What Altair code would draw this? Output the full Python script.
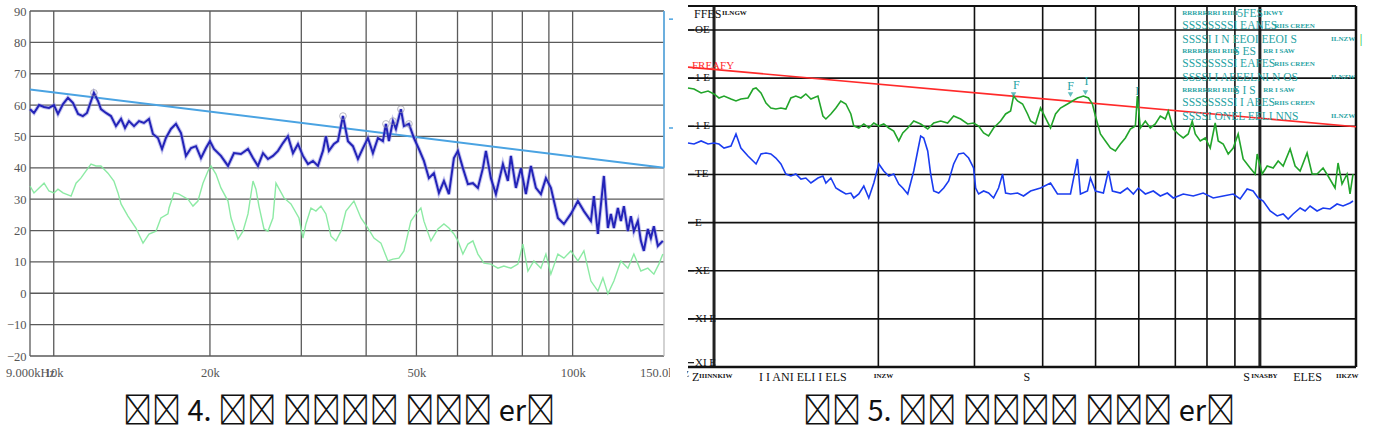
import altair as alt
import pandas as pd

# ---------------- captions (original text uses private-use code points) -------------
CAPTION_LEFT = "\ue339\ue422 4. \ue5af\ue55d \ue617\ue544\ue5fb\ue2fd \ue558\ue55a\ue62c er\ue525"
CAPTION_RIGHT = "\ue339\ue422 5. \ue5af\ue55d \ue617\ue544\ue5fb\ue2fd \ue47e\ue564\ue62c er\ue525"

# ---------------- left chart data (frequency kHz, level dB) --------------------------
L_XTICKS = [9, 10, 20, 50, 100, 150]
L_XTICK_TEXT = ["9.000kHz", "10k", "20k", "50k", "100k", "150.0kHz"]
L_XGRID = [9, 10, 20, 30, 40, 50, 60, 70, 80, 90, 100]
L_YTICKS = [-20, -10, 0, 10, 20, 30, 40, 50, 60, 70, 80, 90]

L_LIMIT = [(9, 65.0), (150, 40.0)]
L_LIMIT_EDGE = [(150, 40.0, 90.0)]
L_EDGE_DASHES = [87.4, 52.7]
L_PEAKS = [(11.95, 63.9), (36.09, 56.5), (43.67, 54.0), (45.05, 54.9), (46.67, 58.7), (48.36, 54.0)]

L_BLUE = [
    (9.00, 58.7), (9.16, 57.5), (9.37, 60.0), (9.58, 59.4), (9.79, 59.1), (10.01, 60.0),
    (10.19, 57.2), (10.42, 60.3), (10.65, 62.3), (10.89, 60.7), (11.14, 57.2), (11.38, 56.5),
    (11.59, 57.5), (11.80, 61.3), (11.95, 63.9), (12.17, 61.3), (12.33, 58.7), (12.61, 57.5),
    (12.89, 56.5), (13.18, 53.3), (13.48, 55.6), (13.72, 52.7), (13.96, 54.9), (14.28, 53.3),
    (14.60, 54.9), (14.92, 54.3), (15.26, 55.6), (15.53, 50.8), (15.88, 49.5), (16.17, 46.0),
    (16.45, 49.5), (16.82, 52.4), (17.20, 54.0), (17.59, 51.1), (17.98, 43.8), (18.39, 46.3),
    (18.80, 46.9), (19.22, 43.1), (19.65, 46.3), (20.00, 48.5), (20.36, 46.0), (21.00, 43.8),
    (21.67, 40.6), (22.25, 44.7), (22.95, 44.4), (23.68, 46.0), (24.21, 43.1), (24.75, 40.6),
    (25.31, 44.7), (25.87, 42.8), (26.45, 43.8), (27.05, 45.4), (27.65, 47.9), (28.27, 50.1),
    (28.91, 44.7), (29.56, 47.6), (30.22, 43.8), (30.90, 41.2), (31.59, 42.2), (32.30, 40.6),
    (33.02, 45.4), (33.46, 50.1), (33.91, 45.4), (34.67, 47.6), (35.29, 48.5), (36.09, 56.5),
    (36.90, 48.5), (37.72, 46.9), (38.57, 42.8), (39.44, 46.3), (40.32, 49.5), (41.22, 44.7),
    (42.15, 49.5), (43.09, 48.5), (43.67, 54.0), (44.25, 48.5), (45.05, 54.9), (45.65, 52.4),
    (46.67, 58.7), (47.30, 53.3), (48.36, 54.0), (49.45, 49.5), (50.55, 46.0), (51.69, 42.2),
    (52.85, 36.7), (54.03, 38.3), (55.25, 32.0), (56.49, 35.8), (57.75, 31.6), (59.05, 43.1),
    (60.11, 45.4), (61.45, 39.9), (62.83, 34.8), (64.24, 35.1), (65.68, 33.6), (67.16, 39.9),
    (68.06, 45.4), (69.58, 36.7), (71.14, 31.6), (73.39, 41.2), (75.03, 35.8), (76.04, 43.8),
    (77.74, 33.6), (79.49, 39.9), (81.27, 31.6), (83.10, 40.6), (84.96, 33.6), (86.87, 31.6),
    (88.82, 36.7), (90.80, 33.6), (93.67, 24.0), (96.20, 22.1), (99.23, 25.3), (102.36, 29.4),
    (105.13, 26.2), (108.45, 23.0), (109.90, 31.0), (111.87, 18.9), (114.88, 37.4), (116.94, 20.8),
    (118.51, 25.3), (120.09, 20.8), (122.24, 27.2), (123.88, 23.0), (125.54, 27.8), (127.79, 19.8),
    (129.49, 24.6), (131.23, 19.8), (133.57, 23.0), (135.36, 16.7), (137.18, 13.5), (139.63, 20.5),
    (141.50, 17.6), (143.40, 21.4), (145.96, 15.1), (149.24, 16.7),
]

L_GREEN = [
    (9.00, 34.2), (9.16, 32.0), (9.37, 33.6), (9.58, 35.1), (9.79, 32.6), (10.01, 32.0),
    (10.19, 33.2), (10.42, 32.0), (10.80, 31.0), (11.04, 35.1), (11.28, 36.7), (11.54, 39.0),
    (11.80, 41.2), (12.06, 40.6), (12.33, 40.6), (12.72, 38.3), (13.06, 35.8), (13.30, 32.0),
    (13.48, 28.5), (13.90, 24.6), (14.40, 20.8), (14.86, 16.0), (15.26, 18.9), (15.74, 19.8),
    (16.09, 24.0), (16.60, 25.3), (16.68, 27.2), (17.05, 32.0), (17.43, 31.6), (18.14, 30.0),
    (18.55, 27.8), (18.96, 29.4), (19.39, 35.1), (19.83, 39.0), (20.09, 40.6), (20.54, 38.0),
    (21.00, 33.6), (21.67, 29.4), (21.96, 24.0), (22.65, 17.3), (23.16, 19.8), (23.68, 25.3),
    (24.21, 35.8), (24.53, 33.2), (24.86, 27.8), (25.42, 20.5), (25.87, 19.8), (26.45, 24.0),
    (26.81, 35.1), (27.78, 30.4), (28.65, 28.5), (29.69, 24.0), (30.22, 17.6), (30.62, 22.1),
    (31.31, 27.2), (32.01, 26.2), (32.73, 27.8), (33.46, 25.3), (34.22, 18.2), (34.98, 16.7),
    (35.77, 19.8), (36.57, 26.2), (37.89, 29.4), (39.09, 24.0), (40.32, 20.8), (41.41, 17.6),
    (42.71, 16.0), (44.06, 10.3), (45.05, 10.9), (46.26, 11.2), (47.30, 13.5), (48.79, 23.0),
    (49.89, 25.3), (51.00, 27.2), (51.69, 23.0), (53.32, 16.7), (55.00, 20.5), (56.49, 22.1),
    (57.75, 20.8), (59.05, 18.9), (60.11, 16.7), (61.45, 12.5), (62.83, 15.7), (64.24, 16.7),
    (65.68, 12.5), (67.46, 9.6), (69.58, 9.3), (71.78, 8.0), (73.71, 8.7), (76.04, 8.0),
    (78.44, 9.3), (80.20, 15.7), (82.00, 7.1), (84.21, 10.3), (86.87, 8.0), (88.82, 12.5),
    (90.80, 6.1), (93.67, 12.5), (96.20, 11.2), (99.23, 13.5), (102.36, 10.3), (105.13, 13.5),
    (108.45, 3.9), (111.87, 0.7), (114.38, 4.9), (116.94, -0.2), (120.09, 3.9), (123.88, 10.3),
    (127.79, 8.0), (131.23, 12.5), (135.36, 7.1), (139.63, 8.0), (143.40, 6.1), (146.61, 9.3),
    (149.24, 12.5),
]

# ---------------- right chart data (frequency kHz, level) ---------------------------
R_XGRID = [20, 30, 40, 50, 60, 70, 80, 90]
R_XGRID_THICK = [10, 100]
R_YGRID = [10, 20, 30, 40, 50, 60, 70]
R_YLABELS = [(70, "OE"), (60, "1 E"), (50, "1 E"), (40, "TE"), (30, "E"), (20, "XE"), (10, "XI E"), (0.9, "XI E")]
R_LIMIT = [(8.96, 62.3), (150, 49.9)]

R_GREEN = [
    (8.96, 57.96), (9.19, 57.75), (9.47, 56.92), (9.75, 57.33), (10.0, 56.71), (10.21, 55.88),
    (10.43, 56.29), (10.74, 55.67), (10.97, 55.26), (11.20, 55.67), (11.54, 55.88), (11.79, 57.75),
    (11.94, 57.96), (12.19, 56.92), (12.45, 54.84), (12.71, 53.80), (12.98, 53.59), (13.26, 53.80),
    (13.54, 53.59), (13.83, 55.88), (14.12, 56.29), (14.43, 55.88), (14.73, 56.71), (15.05, 55.67),
    (15.50, 56.29), (15.83, 52.14), (16.03, 51.52), (16.37, 52.56), (16.72, 53.80), (17.07, 55.26),
    (17.44, 54.63), (17.81, 52.56), (18.03, 50.06), (18.42, 49.65), (18.81, 50.48), (19.21, 49.65),
    (19.62, 50.69), (20.04, 50.06), (20.46, 50.48), (20.90, 49.65), (21.34, 49.02), (21.80, 46.95),
    (22.17, 48.61), (22.64, 49.65), (23.22, 51.10), (23.91, 50.48), (24.63, 49.44), (25.26, 50.69),
    (26.02, 51.10), (26.79, 50.69), (27.48, 52.14), (28.30, 51.52), (29.15, 50.48), (29.89, 50.69),
    (30.53, 50.06), (31.18, 48.61), (31.84, 47.99), (32.52, 49.65), (33.50, 51.10), (34.21, 52.56),
    (34.94, 53.18), (35.38, 56.29), (35.98, 55.26), (36.75, 54.63), (37.53, 52.56), (38.01, 51.10),
    (38.81, 50.48), (39.64, 53.80), (40.48, 51.73), (41.35, 49.65), (42.23, 52.56), (43.12, 53.80),
    (44.41, 54.63), (45.36, 55.26), (46.32, 55.88), (47.51, 56.29), (48.52, 55.88), (49.34, 54.63),
    (49.97, 52.14), (51.03, 48.40), (52.12, 46.95), (53.23, 45.49), (54.36, 44.87), (55.52, 46.32),
    (56.70, 47.57), (57.90, 49.44), (59.14, 50.06), (59.64, 56.29), (60.39, 49.65), (61.68, 51.10),
    (62.99, 49.65), (64.33, 50.48), (65.70, 52.14), (67.10, 51.52), (67.95, 53.18), (69.40, 49.44),
    (70.88, 48.40), (72.38, 47.57), (73.92, 48.40), (75.18, 51.10), (76.14, 48.40), (77.76, 46.95),
    (79.41, 47.57), (81.10, 45.49), (82.82, 50.69), (83.88, 46.95), (85.66, 46.32), (87.49, 44.25),
    (89.35, 45.49), (91.25, 48.40), (93.19, 43.21), (95.98, 41.34), (98.02, 40.09), (98.87, 44.25),
    (100.98, 40.09), (103.13, 41.75), (105.77, 41.34), (108.02, 42.79), (110.32, 41.75), (113.61, 45.28),
    (116.03, 41.75), (118.50, 40.71), (122.04, 44.45), (124.64, 40.09), (127.29, 40.09), (130.55, 41.34),
    (133.33, 39.68), (137.32, 37.18), (139.06, 42.38), (141.42, 38.01), (144.43, 40.09), (146.27, 35.94),
    (148.13, 40.09),
]

R_BLUE = [
    (8.96, 46.53), (9.19, 46.32), (9.47, 46.95), (9.75, 46.32), (10.0, 46.53), (10.21, 46.32),
    (10.43, 45.49), (10.74, 45.91), (10.97, 48.40), (11.20, 45.49), (11.54, 43.83), (11.79, 42.79),
    (11.94, 42.17), (12.19, 44.25), (12.45, 44.45), (12.71, 44.25), (12.98, 43.41), (13.26, 42.17),
    (13.54, 40.09), (13.83, 39.68), (14.12, 40.09), (14.43, 39.05), (14.73, 39.26), (15.05, 38.22),
    (15.50, 39.26), (15.83, 39.68), (16.03, 38.22), (16.37, 39.26), (16.72, 37.18), (17.07, 36.56),
    (17.44, 35.94), (17.81, 36.14), (18.03, 35.11), (18.42, 35.94), (18.81, 37.60), (19.21, 35.11),
    (19.62, 38.22), (20.04, 42.17), (20.46, 40.71), (20.90, 39.68), (21.34, 40.09), (21.80, 38.01),
    (22.17, 37.18), (22.64, 35.94), (23.22, 40.71), (23.61, 44.87), (23.91, 47.99), (24.22, 47.57),
    (24.63, 44.87), (24.94, 40.09), (25.26, 36.56), (25.80, 36.14), (26.35, 37.18), (26.91, 38.64),
    (27.48, 42.17), (28.06, 44.25), (28.66, 44.45), (29.27, 43.41), (29.89, 41.34), (30.15, 37.18),
    (30.53, 35.94), (31.18, 36.56), (31.84, 36.14), (32.52, 35.11), (33.21, 37.18), (33.78, 40.09),
    (34.21, 36.14), (34.94, 35.94), (35.98, 36.14), (36.90, 35.52), (38.01, 36.56), (39.64, 37.18),
    (41.35, 38.22), (42.58, 35.94), (44.98, 35.94), (46.32, 43.21), (46.91, 35.94), (48.32, 36.56),
    (48.93, 39.26), (49.97, 36.56), (51.68, 36.14), (52.78, 40.71), (53.68, 36.56), (55.52, 36.14),
    (57.18, 37.18), (58.64, 35.94), (59.89, 37.18), (61.68, 35.94), (63.79, 36.56), (65.70, 35.52),
    (67.67, 36.14), (69.40, 35.11), (72.38, 35.94), (75.50, 35.52), (78.74, 36.14), (82.13, 35.11),
    (85.66, 35.52), (89.35, 35.94), (92.02, 34.90), (94.77, 36.98), (97.20, 36.56), (99.29, 35.11),
    (101.40, 34.48), (104.44, 32.41), (107.56, 31.37), (110.32, 31.78), (112.66, 30.74), (115.06, 31.78),
    (118.50, 33.03), (121.02, 32.41), (123.59, 33.44), (127.29, 32.41), (130.55, 33.03), (134.45, 32.82),
    (138.48, 33.86), (142.02, 33.44), (146.27, 34.07), (148.13, 34.48),
]

# annotation texts of the right chart (anchor frequency, level)
R_TOP_BIG = [("FFES", 9.19, 73.3)]
R_TOP_SMALL = [("ILNGW", 10.34, 73.5)]
R_LIMIT_LABEL = [("FREAFY", 9.11, 62.6)]
R_LEGEND_BIG = [
    ("5FES", 90.9, 73.3), ("SSSSSSSSI EANES", 72.07, 70.8), ("SSSSI I N EEOI EEOI S", 72.07, 67.9),
    ("S ES", 89.4, 65.4), ("SSSSSSSSI EAFES", 72.07, 62.9), ("SSSSI I AEEELNI N OS", 72.07, 60.0),
    ("S I S", 89.4, 57.3), ("SSSSSSSSI I AEES", 72.07, 54.8), ("SSSSI ONEL EELI NNS", 72.07, 51.9),
]
R_LEGEND_SMALL = [
    ("RRRRRRRI RIIII", 72.07, 73.5), ("IKWY", 101.4, 73.5), ("RIIS CREEN", 106.2, 70.8),
    ("ILNZW", 135.0, 68.2), ("RRRRRRRI RIIII", 72.07, 65.6), ("RR I SAW", 101.4, 65.6),
    ("RIIS CREEN", 106.2, 62.9), ("ILNZW", 135.0, 60.3), ("RRRRRRRI RIIII", 72.07, 57.5),
    ("RR I SAW", 101.4, 57.5), ("RIIS CREEN", 106.2, 54.8), ("ILNZW", 135.0, 52.2),
]
R_MARK_TEXT = [("F", 35.8, 58.6), ("F", 44.98, 58.4), ("I", 48.1, 59.4), ("I", 59.64, 57.3)]
R_MARK_PTS = [(35.38, 56.6), (44.98, 56.6), (47.9, 57.0)]
R_SIDE_MARK = [("|", 153.2, 68.1)]
R_BOTTOM_BIG = [("Z", 9.11), ("I I ANI ELI I ELS", 12.09), ("S", 36.90), ("S", 93.19), ("ELES", 115.06)]
R_BOTTOM_SMALL = [("IIINNKIW", 9.39), ("INZW", 19.62), ("INASBY", 96.4), ("IIKZW", 137.9)]

# ---------------- styling ----------------------------------------------------------
W1, H1 = 634, 345
W2, H2 = 668, 356
SERIF = "Liberation Serif"
CAPTION_FONT = "Noto Sans CJK SC"
TEAL = "#1fa3a3"

# ================= left chart ======================================================
label_expr = "''"
for v, t in reversed(list(zip(L_XTICKS, L_XTICK_TEXT))):
    label_expr = f"datum.value == {v} ? '{t}' : {label_expr}"

xl = alt.Scale(type="log", domain=[9, 150], nice=False)
yl = alt.Scale(domain=[-20, 90], nice=False, zero=False)
x_axis = alt.Axis(values=L_XTICKS, labelExpr=label_expr, grid=False, ticks=False, domain=False,
                  labelFont=SERIF, labelFontSize=12.5, labelColor="#555555", labelPadding=10,
                  labelOverlap=False, labelFlush=False, title=None)
y_axis = alt.Axis(values=L_YTICKS, grid=False, ticks=False, domain=False, labelFont=SERIF,
                  labelFontSize=12.5, labelColor="#555555", labelPadding=4, title=None)
XL = alt.X("f:Q", scale=xl, axis=x_axis)
YL = alt.Y("db:Q", scale=yl, axis=y_axis)

l_gridv = alt.Chart(pd.DataFrame({"f": L_XGRID})).mark_rule(color="#5a5a5a", strokeWidth=1.3).encode(x=XL)
l_gridh = alt.Chart(pd.DataFrame({"db": L_YTICKS})).mark_rule(color="#5a5a5a", strokeWidth=1.3).encode(y=YL)
l_right = alt.Chart(pd.DataFrame({"f": [150]})).mark_rule(color="#bbbbbb", strokeWidth=1.3).encode(x=XL)
l_limit = alt.Chart(pd.DataFrame(L_LIMIT, columns=["f", "db"])).mark_line(
    color="#4aa3e2", strokeWidth=2).encode(x=XL, y=YL)
l_limit_edge = alt.Chart(pd.DataFrame(L_LIMIT_EDGE, columns=["f", "db", "db2"])).mark_rule(
    color="#4aa3e2", strokeWidth=1.5).encode(x=XL, y=YL, y2="db2:Q")
l_dashes = alt.Chart(pd.DataFrame({"db": L_EDGE_DASHES})).mark_rule(
    color="#4aa3e2", strokeWidth=1.5).encode(x=alt.value(W1 + 5), x2=alt.value(W1 + 9), y=YL)
l_green = alt.Chart(pd.DataFrame(L_GREEN, columns=["f", "db"])).mark_line(
    color="#7fe89a", strokeWidth=1.4, opacity=0.9).encode(x=XL, y=YL)
l_blue_halo = alt.Chart(pd.DataFrame(L_BLUE, columns=["f", "db"])).mark_line(
    color="#8f8fe0", strokeWidth=4, opacity=0.5).encode(x=XL, y=YL)
l_blue = alt.Chart(pd.DataFrame(L_BLUE, columns=["f", "db"])).mark_line(
    color="#2323b8", strokeWidth=2).encode(x=XL, y=YL)
l_peaks = alt.Chart(pd.DataFrame(L_PEAKS, columns=["f", "db"])).mark_point(
    shape="circle", size=45, color="#9a9aa8", strokeWidth=1, filled=False).encode(x=XL, y=YL)
l_caption = alt.Chart(pd.DataFrame({"t": [CAPTION_LEFT]})).mark_text(
    font=CAPTION_FONT, fontSize=29, color="#111111", align="center", baseline="middle").encode(
    text="t:N", x=alt.value(W1 / 2 - 8), y=alt.value(H1 + 56))

left = alt.layer(l_gridv, l_gridh, l_right, l_limit, l_limit_edge, l_dashes, l_green,
                 l_blue_halo, l_blue, l_peaks, l_caption).properties(width=W1, height=H1)

# ================= right chart =====================================================
xr = alt.Scale(type="log", domain=[8.96, 150], nice=False)
yr = alt.Scale(domain=[0, 73.95], nice=False, zero=False)
XR = alt.X("f:Q", scale=xr, axis=None)
YR = alt.Y("v:Q", scale=yr, axis=None)
one = pd.DataFrame({"k": [0]})

r_cover = alt.Chart(one).mark_rect(color="white").encode(
    x=alt.value(-18), x2=alt.value(-1), y=alt.value(H2 - 8), y2=alt.value(H2 + 25))
r_gridv = alt.Chart(pd.DataFrame({"f": R_XGRID})).mark_rule(color="#111111", strokeWidth=1.6).encode(
    x=XR, y=alt.value(-5), y2=alt.value(H2))
r_gridv_thick = alt.Chart(pd.DataFrame({"f": R_XGRID_THICK})).mark_rule(color="#222222", strokeWidth=3).encode(
    x=XR, y=alt.value(-5), y2=alt.value(H2))
r_gridh = alt.Chart(pd.DataFrame({"v": R_YGRID})).mark_rule(color="#111111", strokeWidth=1.6).encode(y=YR)
r_top = alt.Chart(one).mark_rule(color="#111111", strokeWidth=2).encode(
    x=alt.value(0), x2=alt.value(W2), y=alt.value(-5))
r_bottom = alt.Chart(one).mark_rule(color="#111111", strokeWidth=2.5).encode(
    x=alt.value(0), x2=alt.value(W2), y=alt.value(H2))
r_rightb = alt.Chart(one).mark_rule(color="#111111", strokeWidth=2.5).encode(
    x=alt.value(W2), y=alt.value(-5), y2=alt.value(H2))
r_ticks = alt.Chart(pd.DataFrame({"v": [v for v, _ in R_YLABELS]})).mark_rule(
    color="#111111", strokeWidth=1.2).encode(x=alt.value(0), x2=alt.value(6), y=YR)
r_ylabels = alt.Chart(pd.DataFrame(R_YLABELS, columns=["v", "t"])).mark_text(
    font=SERIF, fontSize=11, color="#111111", align="left", baseline="middle").encode(
    x=alt.value(7), y=YR, text="t:N")
r_top_big = alt.Chart(pd.DataFrame(R_TOP_BIG, columns=["t", "f", "v"])).mark_text(
    font=SERIF, fontSize=12, color="#111111", align="left", baseline="middle").encode(x=XR, y=YR, text="t:N")
r_top_small = alt.Chart(pd.DataFrame(R_TOP_SMALL, columns=["t", "f", "v"])).mark_text(
    font=SERIF, fontSize=7, fontWeight="bold", color="#111111", align="left", baseline="middle").encode(
    x=XR, y=YR, text="t:N")
r_limit = alt.Chart(pd.DataFrame(R_LIMIT, columns=["f", "v"])).mark_line(
    color="#ff2a2a", strokeWidth=1.6).encode(x=XR, y=YR)
r_limit_label = alt.Chart(pd.DataFrame(R_LIMIT_LABEL, columns=["t", "f", "v"])).mark_text(
    font=SERIF, fontSize=11, color="#ff2a2a", align="left", baseline="middle").encode(x=XR, y=YR, text="t:N")
r_green = alt.Chart(pd.DataFrame(R_GREEN, columns=["f", "v"])).mark_line(
    color="#22a52a", strokeWidth=1.6).encode(x=XR, y=YR)
r_blue = alt.Chart(pd.DataFrame(R_BLUE, columns=["f", "v"])).mark_line(
    color="#1a3cf0", strokeWidth=1.6).encode(x=XR, y=YR)
r_leg_big = alt.Chart(pd.DataFrame(R_LEGEND_BIG, columns=["t", "f", "v"])).mark_text(
    font=SERIF, fontSize=11.5, color=TEAL, align="left", baseline="middle").encode(x=XR, y=YR, text="t:N")
r_leg_small = alt.Chart(pd.DataFrame(R_LEGEND_SMALL, columns=["t", "f", "v"])).mark_text(
    font=SERIF, fontSize=7, fontWeight="bold", color=TEAL, align="left", baseline="middle").encode(
    x=XR, y=YR, text="t:N")
r_mark_text = alt.Chart(pd.DataFrame(R_MARK_TEXT, columns=["t", "f", "v"])).mark_text(
    font=SERIF, fontSize=12, color=TEAL, align="center", baseline="middle").encode(x=XR, y=YR, text="t:N")
r_mark_pts = alt.Chart(pd.DataFrame(R_MARK_PTS, columns=["f", "v"])).mark_point(
    shape="triangle-down", size=30, color=TEAL, filled=True).encode(x=XR, y=YR)
r_side = alt.Chart(pd.DataFrame(R_SIDE_MARK, columns=["t", "f", "v"])).mark_text(
    font=SERIF, fontSize=13, color="#22c02a", align="center", baseline="middle").encode(x=XR, y=YR, text="t:N")
r_bottom_big = alt.Chart(pd.DataFrame(R_BOTTOM_BIG, columns=["t", "f"])).mark_text(
    font=SERIF, fontSize=12, color="#111111", align="left", baseline="middle").encode(
    x=XR, y=alt.value(H2 + 10), text="t:N")
r_bottom_small = alt.Chart(pd.DataFrame(R_BOTTOM_SMALL, columns=["t", "f"])).mark_text(
    font=SERIF, fontSize=7, fontWeight="bold", color="#111111", align="left", baseline="middle").encode(
    x=XR, y=alt.value(H2 + 9), text="t:N")
r_caption = alt.Chart(pd.DataFrame({"t": [CAPTION_RIGHT]})).mark_text(
    font=CAPTION_FONT, fontSize=29, color="#111111", align="center", baseline="middle").encode(
    text="t:N", x=alt.value(W2 / 2 - 3), y=alt.value(H2 + 45))

right = alt.layer(r_cover, r_gridv, r_gridv_thick, r_gridh, r_top, r_bottom, r_rightb, r_ticks,
                  r_ylabels, r_top_big, r_top_small, r_limit, r_limit_label, r_green, r_blue,
                  r_leg_big, r_leg_small, r_mark_text, r_mark_pts, r_side, r_bottom_big,
                  r_bottom_small, r_caption).properties(width=W2, height=H2)

chart = alt.hconcat(left, right, spacing=24, bounds="flush").properties(
    padding={"left": 5, "top": 4, "right": 0, "bottom": 0},
    background="white",
).configure_view(stroke=None)

chart.save("out.html", embed_options={"renderer": "svg", "actions": False})
